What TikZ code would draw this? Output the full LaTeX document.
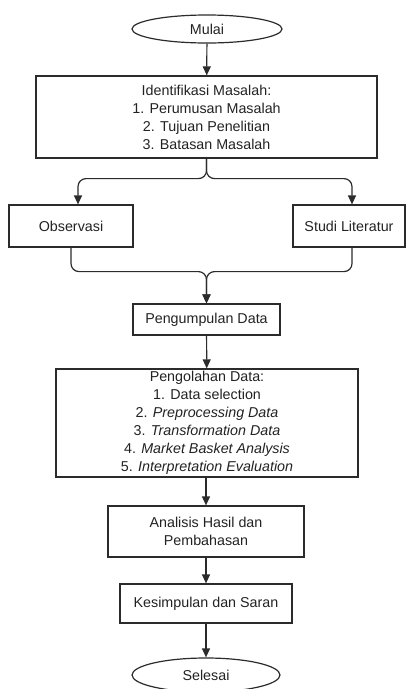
\documentclass[tikz,border=0pt]{standalone}
\usepackage{fontspec}
\setmainfont{Liberation Sans}
\usetikzlibrary{arrows.meta,shapes.geometric}
\definecolor{linec}{HTML}{2B2B2B}
\definecolor{textc}{HTML}{222222}
\tikzset{
  base/.style={draw=linec, line width=1.2pt, align=center, text=textc, inner sep=0pt,
    font=\fontsize{14.3}{18}\selectfont},
  box/.style={base, rectangle},
  term/.style={base, ellipse},
  arr/.style={draw=linec, line width=1.2pt, -{Triangle[width=8pt,length=9pt]}},
  branch/.style={arr, rounded corners=8pt}
}
\begin{document}
\begin{tikzpicture}[x=1pt,y=-1pt]
\useasboundingbox (0,0) rectangle (408,689);
\node[term, minimum width=150pt, minimum height=28pt] (mulai) at (207,29) {Mulai};
\node[box, minimum width=341pt, minimum height=82pt] (ident) at (206.5,117)
  {Identifikasi Masalah:\\1. Perumusan Masalah\\2. Tujuan Penelitian\\3. Batasan Masalah};
\node[box, minimum width=124pt, minimum height=42pt] (obs) at (71,226) {Observasi};
\node[box, minimum width=112pt, minimum height=42pt] (studi) at (349,226) {Studi Literatur};
\node[box, minimum width=147pt, minimum height=31pt] (kumpul) at (206.5,319.5) {Pengumpulan Data};
\node[box, minimum width=302pt, minimum height=108pt] (olah) at (207,423)
  {Pengolahan Data:\\1. Data selection\\2. \textit{Preprocessing Data}\\3. \textit{Transformation Data}\\4. \textit{Market Basket Analysis}\\5. \textit{Interpretation Evaluation}};
\node[box, minimum width=196pt, minimum height=51pt] (analisis) at (206,531.5) {Analisis Hasil dan\\Pembahasan};
\node[box, minimum width=172pt, minimum height=39pt] (simpul) at (206,603.5) {Kesimpulan dan Saran};
\node[term, minimum width=148pt, minimum height=34pt] (selesai) at (206,675) {Selesai};

\coordinate (obsin) at ([xshift=7pt]obs.north);
\coordinate (studin) at ([xshift=3pt]studi.north);
\coordinate (studout) at ([xshift=3pt]studi.south);

\draw[arr] (mulai) -- (ident);
\draw[branch] (ident.south) -- ++(0,20) -| (obsin);
\draw[branch] (ident.south) -- ++(0,20) -| (studin);
\draw[branch] (obs.south) -- ++(0,24) -| (kumpul.north);
\draw[branch] (studout) -- ++(0,24) -| (kumpul.north);
\draw[arr] (kumpul) -- (olah);
\draw[arr] (olah.south -| analisis.north) -- (analisis);
\draw[arr] (analisis) -- (simpul);
\draw[arr] (simpul) -- (selesai);
\end{tikzpicture}
\end{document}
